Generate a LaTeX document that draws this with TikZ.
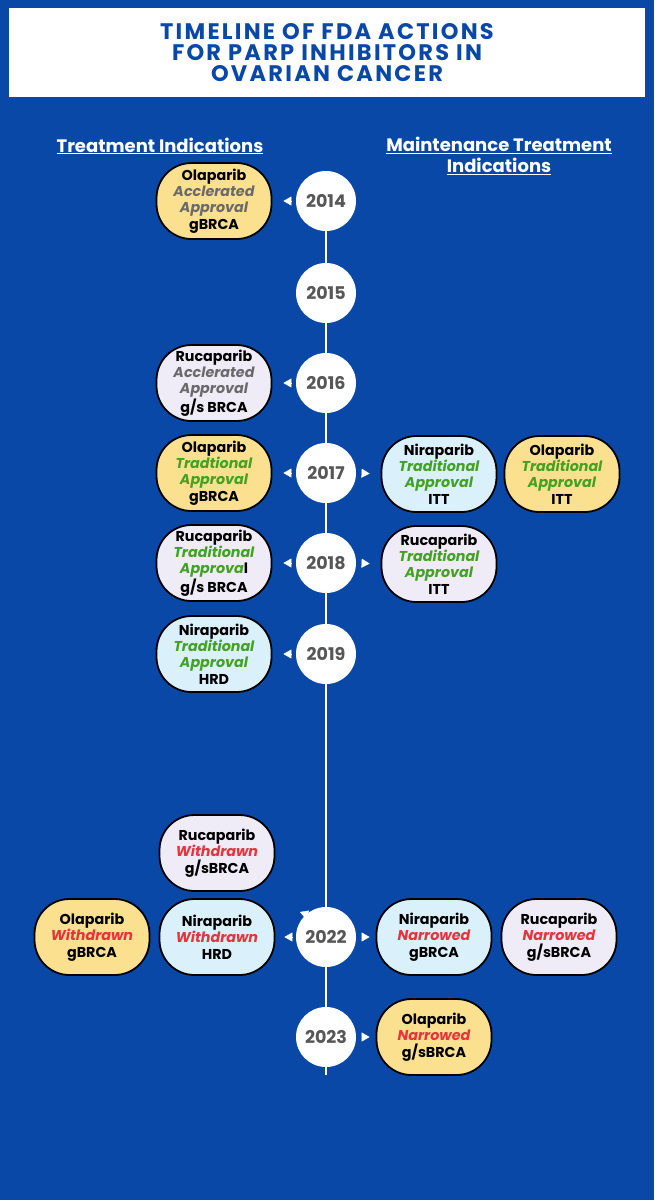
\documentclass[tikz,border=0pt]{standalone}
\usepackage{fontspec}
\setmainfont{Poppins}
\usetikzlibrary{arrows.meta}
\definecolor{bg}{HTML}{0A48A8}
\definecolor{pyellow}{HTML}{FBE08F}
\definecolor{plav}{HTML}{EFEBF7}
\definecolor{pblue}{HTML}{DAF0FB}
\definecolor{sgray}{HTML}{6A6A6A}
\definecolor{sgreen}{HTML}{43A124}
\definecolor{sred}{HTML}{E8333D}
\definecolor{ygray}{HTML}{575757}
\newcommand{\statx}[2]{{\itshape\color{#1}#2}}
\begin{document}
\begin{tikzpicture}[x=1pt,y=-1pt,
  pill/.style={draw=black, line width=1.8pt, rounded corners=35pt, minimum width=115pt,
    minimum height=76pt, align=center, inner sep=0pt, text=black,
    font=\fontsize{14.3}{16.4}\selectfont\bfseries},
  yr/.style={circle, fill=white, minimum size=60pt, inner sep=0pt, text=ygray,
    font=\fontsize{17.5}{17.5}\selectfont\bfseries},
  tline/.style={white, line width=1.8pt},
  tip/.style={white, line width=0.4pt, -{Triangle[length=8pt,width=9pt]}},
  hdr/.style={text=white, align=center, font=\fontsize{18}{21}\selectfont\bfseries}]
\fill[bg] (0,0) rectangle (654,1200);
\useasboundingbox (0,0) rectangle (654,1200);
% title
\node[fill=white, minimum width=636pt, minimum height=89pt, inner sep=0pt, anchor=north west] (titlebox) at (9,8) {};
\node[text=bg, align=center, font=\fontsize{22.5}{21}\selectfont\bfseries\addfontfeatures{LetterSpace=10}] (title) at (327,53)
  {TIMELINE OF FDA ACTIONS\\FOR PARP INHIBITORS IN\\OVARIAN CANCER};
% headers
\node[hdr] (h1) at (160,146) {\underline{Treatment Indications}};
\node[hdr] (h2) at (499,156) {\underline{Maintenance Treatment}\\\underline{Indications}};
% years
\node[yr] (y14) at (326,201) {2014};
\node[yr] (y15) at (326,293) {2015};
\node[yr] (y16) at (326,383) {2016};
\node[yr] (y17) at (326,473) {2017};
\node[yr] (y18) at (326,563) {2018};
\node[yr] (y19) at (326,654) {2019};
\node[yr] (y22) at (326,937) {2022};
\node[yr] (y23) at (326,1037) {2023};
\coordinate (tend) at (326,1075);
% timeline line
\draw[tline] (y14) -- (y15);
\draw[tline] (y15) -- (y16);
\draw[tline] (y16) -- (y17);
\draw[tline] (y17) -- (y18);
\draw[tline] (y18) -- (y19);
\draw[tline] (y19) -- (y22);
\draw[tline] (y22) -- (y23);
\draw[tline] (y23) -- (tend);
% pills left
\node[pill, fill=pyellow] (p14) at (214,201) {Olaparib\\\statx{sgray}{Acclerated}\\\statx{sgray}{Approval}\\gBRCA};
\node[pill, fill=plav] (p16) at (214,383) {Rucaparib\\\statx{sgray}{Acclerated}\\\statx{sgray}{Approval}\\g/s BRCA};
\node[pill, fill=pyellow] (p17) at (214,473) {Olaparib\\\statx{sgreen}{Tradtional}\\\statx{sgreen}{Approval}\\gBRCA};
\node[pill, fill=plav] (p18) at (214,563) {Rucaparib\\\statx{sgreen}{Traditional}\\\statx{sgreen}{Approva}l\\g/s BRCA};
\node[pill, fill=pblue] (p19) at (214,654) {Niraparib\\\statx{sgreen}{Traditional}\\\statx{sgreen}{Approval}\\HRD};
\node[pill, fill=plav] (p22a) at (217,853) {Rucaparib\\\statx{sred}{Withdrawn}\\g/sBRCA};
\node[pill, fill=pblue] (p22b) at (217,937) {Niraparib\\\statx{sred}{Withdrawn}\\HRD};
\node[pill, fill=pyellow] (p22c) at (92,937) {Olaparib\\\statx{sred}{Withdrawn}\\gBRCA};
% pills right
\node[pill, fill=pblue] (q17a) at (439,474) {Niraparib\\\statx{sgreen}{Traditional}\\\statx{sgreen}{Approval}\\ITT};
\node[pill, fill=pyellow] (q17b) at (562,474) {Olaparib\\\statx{sgreen}{Traditional}\\\statx{sgreen}{Approval}\\ITT};
\node[pill, fill=plav] (q18) at (439,564) {Rucaparib\\\statx{sgreen}{Traditional}\\\statx{sgreen}{Approval}\\ITT};
\node[pill, fill=pblue] (q22a) at (434,937) {Niraparib\\\statx{sred}{Narrowed}\\gBRCA};
\node[pill, fill=plav] (q22b) at (559,937) {Rucaparib\\\statx{sred}{Narrowed}\\g/sBRCA};
\node[pill, fill=pyellow] (q23) at (434,1037) {Olaparib\\\statx{sred}{Narrowed}\\g/sBRCA};
% arrowheads
\draw[tip, shorten <=5pt, shorten >=11pt] (y14.west) -- (p14.east);
\draw[tip, shorten <=5pt, shorten >=11pt] (y16.west) -- (p16.east);
\draw[tip, shorten <=5pt, shorten >=11pt] (y17.west) -- (p17.east);
\draw[tip, shorten <=5pt, shorten >=11pt] (y18.west) -- (p18.east);
\draw[tip, shorten <=5pt, shorten >=11pt] (y19.west) -- (p19.east);
\draw[tip, shorten <=4pt, shorten >=9pt] (y22.west) -- (p22b.east);
\draw[tip, shorten <=6pt, shorten >=11pt] (y17.east) -- (q17a.west);
\draw[tip, shorten <=6pt, shorten >=11pt] (y18.east) -- (q18.west);
\draw[tip, shorten <=6pt, shorten >=6pt] (y22.east) -- (q22a.west);
\draw[tip, shorten <=6pt, shorten >=6pt] (y23.east) -- (q23.west);
\coordinate (odd) at (308,915);
\draw[tip, shorten <=0pt] (odd) -- ++(-8,-3);
\end{tikzpicture}
\end{document}
